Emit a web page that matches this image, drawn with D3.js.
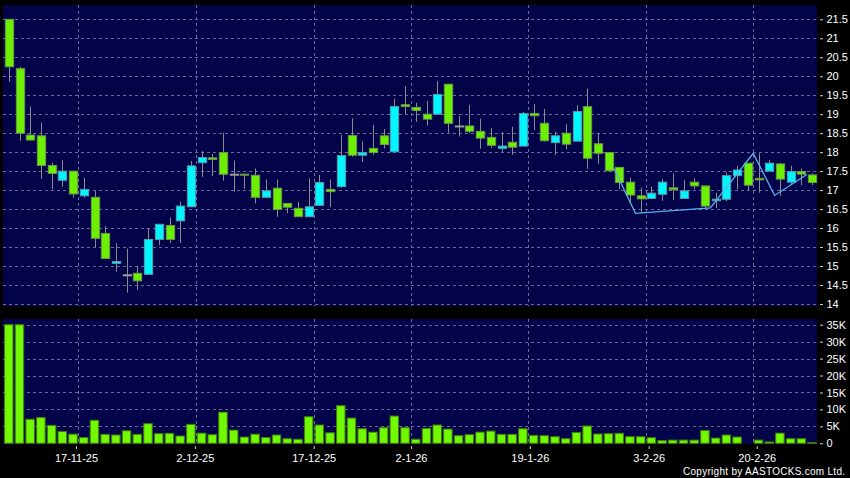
<!DOCTYPE html>
<html><head><meta charset="utf-8">
<script src="https://cdn.jsdelivr.net/npm/d3@7/dist/d3.min.js"></script>
<style>html,body{margin:0;padding:0;background:#000;} svg{display:block;}</style>
</head><body>
<svg id="c" width="850" height="478"></svg>
<script>
const dates = ["7-11-25","10-11-25","11-11-25","12-11-25","13-11-25","14-11-25","17-11-25","18-11-25","19-11-25","20-11-25",
"21-11-25","24-11-25","25-11-25","26-11-25","27-11-25","28-11-25","1-12-25","2-12-25","3-12-25","4-12-25",
"5-12-25","8-12-25","9-12-25","10-12-25","11-12-25","12-12-25","15-12-25","16-12-25","17-12-25","18-12-25",
"19-12-25","22-12-25","23-12-25","24-12-25","29-12-25","30-12-25","31-12-25","2-1-26","5-1-26","6-1-26",
"7-1-26","8-1-26","9-1-26","12-1-26","13-1-26","14-1-26","15-1-26","16-1-26","19-1-26","20-1-26",
"21-1-26","22-1-26","23-1-26","26-1-26","27-1-26","28-1-26","29-1-26","30-1-26","2-2-26","3-2-26",
"4-2-26","5-2-26","6-2-26","9-2-26","10-2-26","11-2-26","12-2-26","13-2-26","16-2-26","20-2-26",
"23-2-26","24-2-26","25-2-26","26-2-26","27-2-26","2-3-26"];
const open = [21.50,20.20,18.45,18.43,17.65,17.26,17.50,16.85,16.81,15.86,
15.07,14.77,14.81,14.78,15.70,16.07,16.19,16.56,17.72,17.85,
17.99,17.42,17.42,17.39,16.81,17.05,16.65,16.52,16.30,16.60,
17.02,17.09,18.44,17.92,18.10,18.43,18.01,19.25,19.18,19.00,
19.00,19.79,18.69,18.69,18.55,18.39,18.10,18.26,18.16,19.02,
18.76,18.25,18.50,18.29,19.20,18.22,17.99,17.60,17.21,16.85,
16.78,16.89,17.06,16.78,17.21,17.11,16.72,16.76,17.38,17.71,
17.31,17.50,17.69,17.21,17.49,17.40];
const high = [21.50,20.25,19.20,18.78,17.72,17.79,17.50,17.32,16.98,16.05,
15.60,15.46,15.00,16.00,16.10,16.28,16.70,17.77,18.03,17.95,
18.51,17.78,17.42,17.57,17.28,17.28,16.65,16.69,17.31,17.40,
17.28,18.45,18.89,18.28,18.72,18.61,19.41,19.74,19.30,19.35,
19.87,19.79,18.95,19.24,18.88,18.64,18.53,18.67,19.06,19.27,
19.14,18.54,18.74,19.24,19.68,18.51,17.99,17.60,17.33,17.07,
17.09,17.29,17.44,17.27,17.31,17.11,16.93,17.47,17.64,17.71,
17.97,17.79,17.72,17.64,17.57,17.44];
const low = [19.85,18.30,18.30,17.30,17.02,17.09,16.80,16.80,15.50,15.20,
14.85,14.30,14.37,14.78,15.55,15.61,15.61,16.56,17.35,17.37,
17.25,16.96,17.03,16.65,16.81,16.30,16.39,16.30,16.30,16.60,
16.56,17.06,17.88,17.74,17.93,18.10,18.01,19.00,18.80,18.70,
19.00,18.51,18.41,18.50,18.09,18.11,18.01,17.93,18.16,18.58,
18.28,17.93,18.08,18.29,17.56,17.69,17.49,17.02,16.63,16.39,
16.78,16.72,16.74,16.78,17.03,16.54,16.53,16.71,17.02,17.00,
16.93,17.50,16.85,17.13,17.13,17.13];
const close = [20.25,18.50,18.32,17.65,17.44,17.50,16.90,17.02,15.73,15.20,
15.12,14.77,14.61,15.70,16.10,15.70,16.58,17.64,17.86,17.81,
17.42,17.42,17.40,16.81,16.98,16.49,16.55,16.30,16.56,17.20,
16.96,17.91,17.92,17.99,17.99,18.20,19.20,19.20,19.10,18.87,
19.52,18.76,18.69,18.55,18.37,18.18,18.16,18.13,19.02,18.96,
18.30,18.43,18.21,19.07,17.84,17.97,17.51,17.20,16.87,16.77,
16.92,17.21,17.01,16.98,17.11,16.58,16.76,17.38,17.53,17.13,
17.27,17.71,17.29,17.49,17.42,17.20];
const volume = [35000,35000,7100,7600,5300,3500,2700,1700,6800,2650,
2450,3700,2650,5800,2850,2950,2150,5600,3000,2550,
9200,3900,1850,2700,1700,2450,1350,1200,7850,5400,
3100,11100,7450,4300,3300,4600,8050,4600,1200,4400,
5400,4200,2250,2550,3300,3600,2650,2650,4300,2350,
2250,1950,1350,3200,5100,2750,2850,2950,1950,1950,
1650,800,950,950,950,3800,1550,2450,1850,0,
950,400,3000,1350,1350,250];
const tickDates = ["17-11-25","2-12-25","17-12-25","2-1-26","19-1-26","3-2-26","20-2-26"];
const priceTicks = [14,14.5,15,15.5,16,16.5,17,17.5,18,18.5,19,19.5,20,20.5,21,21.5];
const volumeTicks = [0,5000,10000,15000,20000,25000,30000,35000];
const volumeTickLabels = ["0","5K","10K","15K","20K","25K","30K","35K"];
const zigzagDates = ["30-1-26","3-2-26","12-2-26","23-2-26","25-2-26","2-3-26"];
const zigzagValues = [17.57,16.39,16.53,17.97,16.86,17.41];

const svg = d3.select("#c");
const font = "'Liberation Sans', Arial, Helvetica, sans-serif";
const bg = "#03034a", gridColor = "#6a6a9a";
const L = 3, R = 817;
const P = {top: 5, bottom: 306};
const V = {top: 319, bottom: 444};

svg.append("rect").attr("width",850).attr("height",478).attr("fill","#000");
svg.append("rect").attr("x",L).attr("y",P.top).attr("width",R-L).attr("height",P.bottom-P.top).attr("fill",bg);
svg.append("rect").attr("x",L).attr("y",V.top).attr("width",R-L).attr("height",V.bottom-V.top).attr("fill",bg);

const x = d3.scaleBand().domain(dates).range([3.5, 817.5]).padding(0);
const step = x.step();
const xTick = d3.scaleLinear().domain([0, dates.length - 1]).range([11.17, 11.17 + 10.805*(dates.length-1)]);
const y = d3.scaleLinear().domain([14, 21.5]).range([304, 19.3]);
const yv = d3.scaleLinear().domain([0, 35000]).range([443.3, 324.7]);

// grid
const g = svg.append("g").attr("stroke", gridColor).attr("stroke-dasharray","3,3").attr("stroke-width",1);
priceTicks.forEach(t => g.append("line").attr("x1",L).attr("x2",R).attr("y1",Math.round(y(t))+0.5).attr("y2",Math.round(y(t))+0.5));
volumeTicks.filter(t=>t>0).forEach(t => g.append("line").attr("x1",L).attr("x2",R).attr("y1",Math.round(yv(t))+0.5).attr("y2",Math.round(yv(t))+0.5));
tickDates.forEach(d => {
  const gx = Math.round(x(d) + step) + 0.5;
  g.append("line").attr("x1",gx).attr("x2",gx).attr("y1",P.top).attr("y2",P.bottom);
  g.append("line").attr("x1",gx).attr("x2",gx).attr("y1",V.top).attr("y2",V.bottom);
});

// candles
const data = dates.map((d,i)=>({d, o:open[i], h:high[i], l:low[i], c:close[i], v:volume[i]}));
const bw = step - 2.4;
const cg = svg.append("g");
data.forEach(k => {
  const cx = Math.round(x(k.d) + step/2) + 0.5;
  cg.append("line").attr("x1",cx).attr("x2",cx).attr("y1",y(k.h)).attr("y2",y(k.l))
    .attr("stroke","#8c8c8c").attr("stroke-width",1);
  const top = y(Math.max(k.o,k.c)), bot = y(Math.min(k.o,k.c));
  const up = k.c > k.o, flat = k.c === k.o;
  const fill = flat ? "#9a9a9a" : (up ? "#00f6ff" : "#6cf000");
  cg.append("rect").attr("x", cx - bw/2).attr("y", top).attr("width", bw).attr("height", Math.max(1, bot-top))
    .attr("fill", fill).attr("stroke", flat ? "#9a9a9a" : (up ? "#5a9aa8" : "#6a9a4a")).attr("stroke-width",1);
});

// zigzag line
const zz = zigzagDates.map((d,i)=>[x(d), y(zigzagValues[i])]);
svg.append("path").attr("d", d3.line()(zz)).attr("fill","none").attr("stroke","#5ab0ee").attr("stroke-width",1.3);

// volume
const vg = svg.append("g");
data.forEach(k => {
  if (k.v <= 0) return;
  vg.append("rect").attr("x", x(k.d) + 1).attr("y", yv(k.v)).attr("width", step - 2.2).attr("height", yv(0) - yv(k.v))
    .attr("fill","#72f800").attr("stroke","#3b7d10").attr("stroke-width",1);
});

// axes
const pa = svg.append("g").attr("transform","translate(820,0)")
  .call(d3.axisRight(y).tickValues(priceTicks).tickSize(3).tickPadding(3.5).tickFormat(d => d % 1 === 0 ? d3.format("d")(d) : d3.format(".1f")(d)));
const va = svg.append("g").attr("transform","translate(820,0)")
  .call(d3.axisRight(yv).tickValues(volumeTicks).tickSize(3).tickPadding(3.5).tickFormat((d,i) => volumeTickLabels[i]));
const xa = svg.append("g").attr("transform","translate(0,446)")
  .call(d3.axisBottom(xTick).tickValues(tickDates.map(d => dates.indexOf(d))).tickSize(3).tickPadding(5.2).tickFormat(i => dates[i]));
[pa, va, xa].forEach(a => {
  a.select(".domain").remove();
  a.selectAll(".tick line").attr("stroke","#cfcfcf");
  a.selectAll(".tick text").attr("fill","#fff").style("font-family", font).style("font-size","11px");
});

svg.append("text").attr("x",845).attr("y",475).attr("text-anchor","end")
  .attr("fill","#fff").style("font-family", font).style("font-size","10px")
  .attr("textLength",162).attr("lengthAdjust","spacing")
  .text("Copyright by AASTOCKS.com Ltd.");
</script>
</body></html>
